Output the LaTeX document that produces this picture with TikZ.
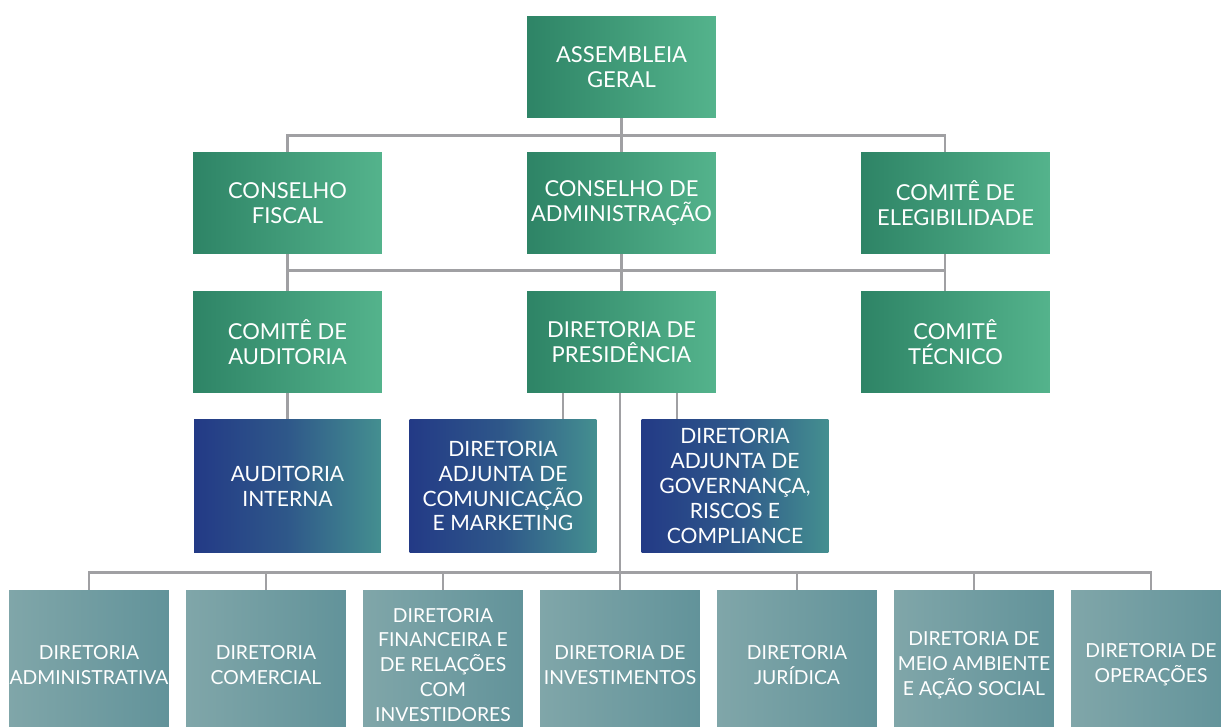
\documentclass[tikz,border=0pt]{standalone}
\usepackage{fontspec}
\setmainfont{Lato}
\definecolor{greenL}{HTML}{2E8466}
\definecolor{greenR}{HTML}{54B38C}
\definecolor{blueL}{HTML}{233A86}
\definecolor{blueR}{HTML}{448F90}
\definecolor{tealL}{HTML}{80A6A9}
\definecolor{tealR}{HTML}{62939A}
\definecolor{linkgray}{HTML}{A0A0A3}
\tikzset{
  greenbox/.style={minimum width=3.78cm, minimum height=2.04cm, inner sep=0pt,
    left color=greenL, right color=greenR, text=white, align=center,
    font=\fontsize{12.5}{14.2}\selectfont},
  bluebox/.style={minimum width=3.74cm, minimum height=2.68cm, inner sep=0pt,
    left color=blueL, right color=blueR, middle color=blueL!65!blueR, text=white, align=center,
    font=\fontsize{12}{14.2}\selectfont},
  tealbox/.style={minimum width=3.2cm, minimum height=3cm, inner sep=0pt,
    left color=tealL, right color=tealR, text=white, align=center,
    font=\fontsize{11}{14.2}\selectfont},
  link/.style={draw=linkgray, line width=1.6pt}
}
\begin{document}
\begin{tikzpicture}[x=0.02cm,y=-0.02cm]
\clip (0,0) rectangle (1221,727);
% top
\node[greenbox] (A1) at (621.5,67) {ASSEMBLEIA\\GERAL};
% conselhos
\node[greenbox] (B1) at (287.5,203) {CONSELHO\\FISCAL};
\node[greenbox] (B2) at (621.5,203) {CONSELHO DE\\ADMINISTRAÇÃO};
\node[greenbox] (B3) at (955.5,203) {COMITÊ DE\\ELEGIBILIDADE};
% comites
\node[greenbox] (C1) at (287.5,342) {COMITÊ DE\\AUDITORIA};
\node[greenbox] (C2) at (621.5,342) {DIRETORIA DE\\PRESIDÊNCIA};
\node[greenbox] (C3) at (955.5,342) {COMITÊ\\TÉCNICO};
% adjuntas
\node[bluebox] (D1) at (287.5,486) {AUDITORIA\\INTERNA};
\node[bluebox] (D2) at (503,486) {DIRETORIA\\ADJUNTA DE\\COMUNICAÇÃO\\E MARKETING};
\node[bluebox] (D3) at (735,486) {DIRETORIA\\ADJUNTA DE\\GOVERNANÇA,\\RISCOS E\\COMPLIANCE};
% diretorias
\node[tealbox] (E1) at (89,665) {DIRETORIA\\ADMINISTRATIVA};
\node[tealbox] (E2) at (266,665) {DIRETORIA\\COMERCIAL};
\node[tealbox] (E3) at (443,665) {DIRETORIA\\FINANCEIRA E\\DE RELAÇÕES\\COM\\INVESTIDORES};
\node[tealbox] (E4) at (620,665) {DIRETORIA DE\\INVESTIMENTOS};
\node[tealbox] (E5) at (797,665) {DIRETORIA\\JURÍDICA};
\node[tealbox] (E6) at (974,665) {DIRETORIA DE\\MEIO AMBIENTE\\E AÇÃO SOCIAL};
\node[tealbox] (E7) at (1151,665) {DIRETORIA DE\\OPERAÇÕES};

\coordinate (b3n) at ([xshift=-0.21cm]B3.north);
\coordinate (b3s) at ([xshift=-0.21cm]B3.south);
\coordinate (c3n) at ([xshift=-0.21cm]C3.north);
\coordinate (c2l) at ([xshift=-1.17cm]C2.south);
\coordinate (c2r) at ([xshift=1.11cm]C2.south);

\draw[link] (A1) -- (B2);
\draw[link] (B1.north) -- ++(0,-16) -| (b3n);
\draw[link] (B1) -- (C1);
\draw[link] (B2) -- (C2);
\draw[link] (b3s) -- (c3n);
\draw[link] (C1.north) -- ++(0,-20) -| (c3n);
\draw[link] (C1) -- (D1);
\draw[link] (c2l) -- (c2l |- D2.north);
\draw[link] (c2r) -- (c2r |- D3.north);
\draw[link] (C2.south -| E4.north) -- (E4);
\draw[link] (E1.north) -- ++(0,-17) -| (E7.north);
\foreach \i in {2,3,5,6}
  \draw[link] (E\i.north) -- ++(0,-17);
\end{tikzpicture}
\end{document}
